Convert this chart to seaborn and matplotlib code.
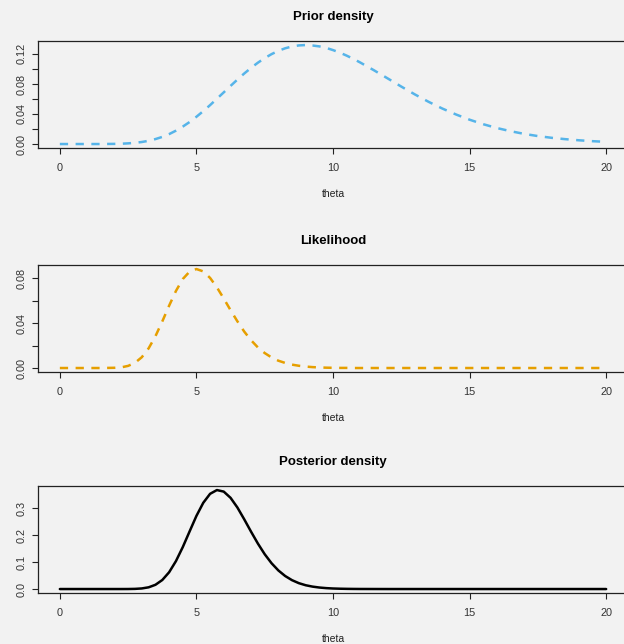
import pandas as pd
import numpy as np
import matplotlib
matplotlib.use('Agg')
import matplotlib.pyplot as plt
import seaborn as sns

# =====================================================
# DATA
# =====================================================
theta = [0, 0.5, 1, 1.5, 2,
         2.25, 2.5, 2.75, 3, 3.25, 3.5, 3.75, 4, 4.25, 4.5, 4.75,
         5, 5.25, 5.5, 5.75, 6, 6.25, 6.5, 6.75, 7, 7.25, 7.5, 7.75,
         8, 8.25, 8.5, 8.75, 9, 9.25, 9.5, 9.75, 10, 10.25, 10.5, 10.75, 11,
         11.5, 12, 12.5, 13, 13.5, 14, 14.5, 15, 15.5, 16, 16.5, 17, 17.5,
         18, 18.5, 19, 19.5, 20]

prior = [0, 0, 0, 0, 0.0002,
         0.0004, 0.0009, 0.0016, 0.0027, 0.0043, 0.0066, 0.0095, 0.0132, 0.0178, 0.0232, 0.0293,
         0.0363, 0.0438, 0.0518, 0.0603, 0.0688, 0.0774, 0.0858, 0.0939, 0.1014, 0.1083, 0.1144, 0.1197,
         0.1241, 0.1275, 0.1299, 0.1313, 0.1318, 0.1312, 0.1300, 0.1280, 0.1251, 0.1217, 0.1177, 0.1133, 0.1085,
         0.0982, 0.0874, 0.0765, 0.0660, 0.0562, 0.0473, 0.0394, 0.0324, 0.0264, 0.0213, 0.0171, 0.0135, 0.0106,
         0.0083, 0.0065, 0.0050, 0.0038, 0.0029]

likelihood = [0, 0, 0, 0, 0.0002,
              0.0006, 0.0019, 0.0046, 0.0096, 0.0175, 0.0283, 0.0414, 0.0554, 0.0685, 0.0791, 0.0857,
              0.0880, 0.0859, 0.0801, 0.0717, 0.0618, 0.0514, 0.0415, 0.0324, 0.0247, 0.0183, 0.0133, 0.0094,
              0.0065, 0.0045, 0.0030, 0.0020, 0.0013, 0.0008, 0.0005, 0.0003, 0.0002, 0.0001, 0.0001, 0, 0,
              0, 0, 0, 0, 0, 0, 0, 0, 0, 0, 0, 0, 0,
              0, 0, 0, 0, 0]

posterior = [0, 0, 0, 0, 0,
             0, 0.0001, 0.0006, 0.0022, 0.0064, 0.0158, 0.0335, 0.0623, 0.1037, 0.1557, 0.2140,
             0.2716, 0.3202, 0.3536, 0.3676, 0.3618, 0.3387, 0.3028, 0.2590, 0.2130, 0.1689, 0.1293, 0.0959,
             0.0690, 0.0483, 0.0329, 0.0218, 0.0141, 0.0090, 0.0056, 0.0034, 0.0020, 0.0012, 0.0007, 0.0004, 0.0002,
             0.0001, 0, 0, 0, 0, 0, 0, 0, 0, 0, 0, 0, 0,
             0, 0, 0, 0, 0]

x_ticks = [0, 5, 10, 15, 20]
prior_yticks = [0.00, 0.02, 0.04, 0.06, 0.08, 0.10, 0.12]
prior_ylabels = ['0.00', '', '0.04', '', '0.08', '', '0.12']
lik_yticks = [0.00, 0.02, 0.04, 0.06, 0.08]
lik_ylabels = ['0.00', '', '0.04', '', '0.08']
post_yticks = [0.0, 0.1, 0.2, 0.3]
post_ylabels = ['0.0', '0.1', '0.2', '0.3']

df = pd.DataFrame({'theta': theta, 'prior': prior,
                   'likelihood': likelihood, 'posterior': posterior})

# =====================================================
# STYLE
# =====================================================
sns.set_theme(style='ticks')
bg = '#F2F2F2'
plt.rcParams['font.family'] = ['Liberation Sans', 'DejaVu Sans']
plt.rcParams['figure.facecolor'] = bg
plt.rcParams['axes.facecolor'] = bg

fig = plt.figure(figsize=(6.24, 6.44), dpi=100)

panels = [
    ('prior', 'Prior density', '#56B4E9', True, prior_yticks, prior_ylabels, 0.7702),
    ('likelihood', 'Likelihood', '#E69F00', True, lik_yticks, lik_ylabels, 0.4224),
    ('posterior', 'Posterior density', 'black', False, post_yticks, post_ylabels, 0.0792),
]

for col, title, color, dashed, yt, yl, bottom in panels:
    ax = fig.add_axes([0.0609, bottom, 0.9455, 0.1660])
    sns.lineplot(ax=ax, data=df, x='theta', y=col, color=color, linewidth=1.8)
    line = ax.get_lines()[0]
    if dashed:
        line.set_dashes((3.3, 3.0))
        line.set_dash_capstyle('butt')

    ymax = max(df[col])
    pad = ymax * 0.04
    ax.set_xlim(-0.8, 20.8)
    ax.set_ylim(-pad, ymax + pad)
    ax.set_xticks(x_ticks)
    ax.set_xticklabels([str(t) for t in x_ticks])
    ax.set_yticks(yt)
    ax.set_yticklabels(yl, rotation=90, va='center')

    ax.set_title(title, fontsize=9.5, fontweight='bold', color='black', pad=15.5)
    ax.set_xlabel('theta', fontsize=7.5, color='#222222', labelpad=11.5)
    ax.set_ylabel('')

    for s in ax.spines.values():
        s.set_visible(True)
        s.set_linewidth(0.9)
        s.set_color('#222222')
    ax.tick_params(axis='both', length=4.5, width=0.8, color='#222222',
                   labelsize=7.8, labelcolor='#333333')
    ax.tick_params(axis='x', pad=6.5)
    ax.tick_params(axis='y', pad=3.5)

fig.savefig('out.png', dpi=100, facecolor=bg)
